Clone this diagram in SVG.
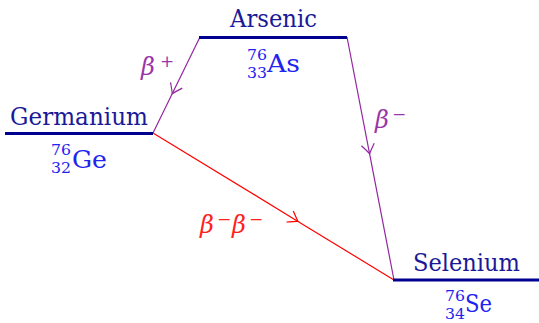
<svg xmlns="http://www.w3.org/2000/svg" width="539" height="323" viewBox="0 0 539 323">
<style>
  text { font-family: "DejaVu Serif", serif; }
  .lvl { stroke: #000090; stroke-width: 3; fill: none; }
  .name { font-size: 25px; fill: #1a1a96; }
  .iso { font-size: 25px; fill: #2323f0; }
  .isos { font-size: 15px; fill: #2323f0; }
  .conn { fill: none; stroke-width: 1.2; marker-mid: url(#arr); }
  .pur { stroke: #93279f; }
  .red { stroke: #ff0000; }
  .beta { font-style: italic; font-size: 24px; }
  .sup { font-size: 17px; }
</style>
<defs>
  <marker id="arr" markerUnits="userSpaceOnUse" markerWidth="20" markerHeight="20" refX="10" refY="10" orient="auto" overflow="visible">
    <path d="M 0.5,3.5 C 4,6 8,9 10,10 C 8,11 4,14 0.5,16.5" fill="none" stroke="context-stroke" stroke-width="1.2"/>
  </marker>
</defs>
<g id="connectors">
  <path class="conn pur" d="M 200,37 L 172.2,93.8 L 153,133"/>
  <path class="conn pur" d="M 347,37 L 369.6,153.8 L 394,280"/>
  <path class="conn red" d="M 153,133 L 298,221.4 L 394,280"/>
  <text class="beta" x="141" y="75" fill="#9a34a8">β</text>
  <text class="sup" x="160" y="67" fill="#9a34a8">+</text>
  <text class="beta" x="375" y="128" fill="#9a34a8">β</text>
  <text class="sup" x="392" y="120" fill="#9a34a8">−</text>
  <text class="beta" x="200" y="233" fill="#ff2020">β</text>
  <text class="sup" x="217" y="225" fill="#ff2020">−</text>
  <text class="beta" x="232" y="233" fill="#ff2020">β</text>
  <text class="sup" x="249" y="225" fill="#ff2020">−</text>
</g>
<g id="arsenic">
  <line class="lvl" x1="199" y1="37.5" x2="347" y2="37.5"/>
  <text class="name" x="230" y="27" textLength="87" lengthAdjust="spacingAndGlyphs">Arsenic</text>
  <text class="isos" x="247" y="60" textLength="20" lengthAdjust="spacingAndGlyphs">76</text>
  <text class="isos" x="247" y="78" textLength="20" lengthAdjust="spacingAndGlyphs">33</text>
  <text class="iso" x="267" y="72" textLength="33" lengthAdjust="spacingAndGlyphs">As</text>
</g>
<g id="germanium">
  <line class="lvl" x1="5" y1="133.5" x2="153" y2="133.5"/>
  <text class="name" x="10" y="125" textLength="138" lengthAdjust="spacingAndGlyphs">Germanium</text>
  <text class="isos" x="51" y="155" textLength="20" lengthAdjust="spacingAndGlyphs">76</text>
  <text class="isos" x="51" y="173" textLength="20" lengthAdjust="spacingAndGlyphs">32</text>
  <text class="iso" x="72" y="168" textLength="35" lengthAdjust="spacingAndGlyphs">Ge</text>
</g>
<g id="selenium">
  <line class="lvl" x1="393" y1="280" x2="539" y2="280"/>
  <text class="name" x="413" y="271" textLength="107" lengthAdjust="spacingAndGlyphs">Selenium</text>
  <text class="isos" x="445" y="301" textLength="20" lengthAdjust="spacingAndGlyphs">76</text>
  <text class="isos" x="445" y="319" textLength="20" lengthAdjust="spacingAndGlyphs">34</text>
  <text class="iso" x="465" y="312" textLength="27" lengthAdjust="spacingAndGlyphs">Se</text>
</g>
</svg>
